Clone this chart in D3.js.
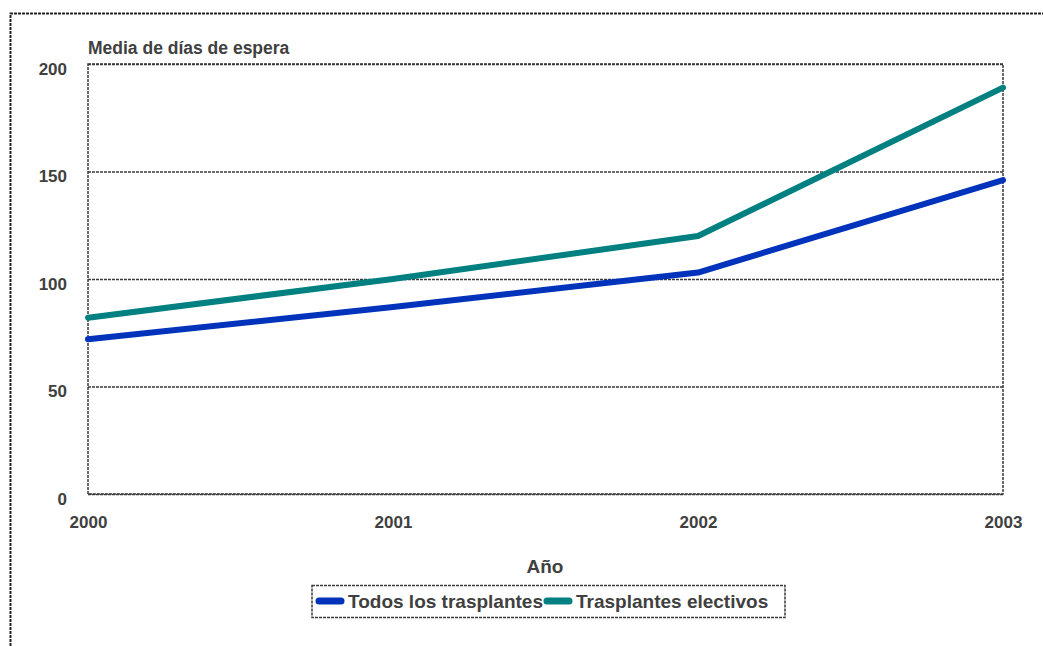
<!DOCTYPE html>
<html><head><meta charset="utf-8">
<script src="https://cdn.jsdelivr.net/npm/d3@7"></script>
<style>
body{margin:0;background:#fff;}
text{font-family:"Liberation Sans",Arial,sans-serif;font-weight:bold;fill:#404040;}
</style></head><body>
<svg id="c" width="1043" height="646"></svg>
<script>
const years = ["2000","2001","2002","2003"];
const todos = [72, 87, 103, 146];
const electivos = [82, 100, 120, 189];
const yTicks = [0, 50, 100, 150, 200];
const seriesNames = ["Todos los trasplantes", "Trasplantes electivos"];
const seriesColors = ["#0033bb", "#008080"];

const svg = d3.select("#c");
const L = 88, R = 1003, T = 64, B = 494;
const x = d3.scalePoint().domain(years).range([L, R]);
const y = d3.scaleLinear().domain([0, 200]).range([B, T]);
const dash = "3,1";
const gridCol = "#3a3a3a";

// outer border
svg.append("path").attr("d", "M10.5,646 V13.5 H1043")
  .attr("fill","none").attr("stroke","#222").attr("stroke-width",2).attr("stroke-dasharray","3,1");

// gridlines
const yAxis = d3.axisLeft(y).tickValues(yTicks).tickSize(-(R - L)).tickFormat(d3.format("d")).tickPadding(21);
const gy = svg.append("g").attr("transform", `translate(${L},0)`).call(yAxis);
gy.select(".domain").remove();
gy.selectAll(".tick line").attr("stroke", gridCol).attr("stroke-width",1.3).attr("stroke-dasharray", dash);
gy.selectAll(".tick text").attr("font-size", 17).attr("dy","0.6em").attr("fill","#404040");

// plot border
svg.append("rect").attr("x", L).attr("y", T).attr("width", R - L).attr("height", B - T)
  .attr("fill","none").attr("stroke", gridCol).attr("stroke-width",1.5).attr("stroke-dasharray", dash);

// x axis labels
const xAxis = d3.axisBottom(x).tickSize(0).tickPadding(22);
const gx = svg.append("g").attr("transform", `translate(0,${B})`).call(xAxis);
gx.select(".domain").remove();
gx.selectAll(".tick text").attr("font-size", 17).attr("fill","#404040");

// lines
const line = d3.line().x((d,i)=>x(years[i])).y(d=>y(d));
[todos, electivos].forEach((s,i)=>{
  svg.append("path").datum(s).attr("d", line).attr("fill","none")
    .attr("stroke", seriesColors[i]).attr("stroke-width", 6)
    .attr("stroke-linecap","round").attr("stroke-linejoin","round");
});

// titles
svg.append("text").attr("x", L).attr("y", 54).attr("font-size", 17.5).text("Media de días de espera");
svg.append("text").attr("x", 545).attr("y", 573).attr("text-anchor","middle").attr("font-size", 19).text("Año");

// legend
svg.append("rect").attr("x", 312).attr("y", 585.5).attr("width", 473).attr("height", 32)
  .attr("fill","none").attr("stroke", gridCol).attr("stroke-width",1.5).attr("stroke-dasharray", dash);
const lx = [316, 544];
seriesNames.forEach((n,i)=>{
  svg.append("line").attr("x1", lx[i]+3).attr("x2", lx[i]+25).attr("y1", 601).attr("y2", 601)
    .attr("stroke", seriesColors[i]).attr("stroke-width", 7).attr("stroke-linecap","round");
  svg.append("text").attr("x", lx[i]+32).attr("y", 608).attr("font-size", 19).text(n);
});
</script></body></html>
